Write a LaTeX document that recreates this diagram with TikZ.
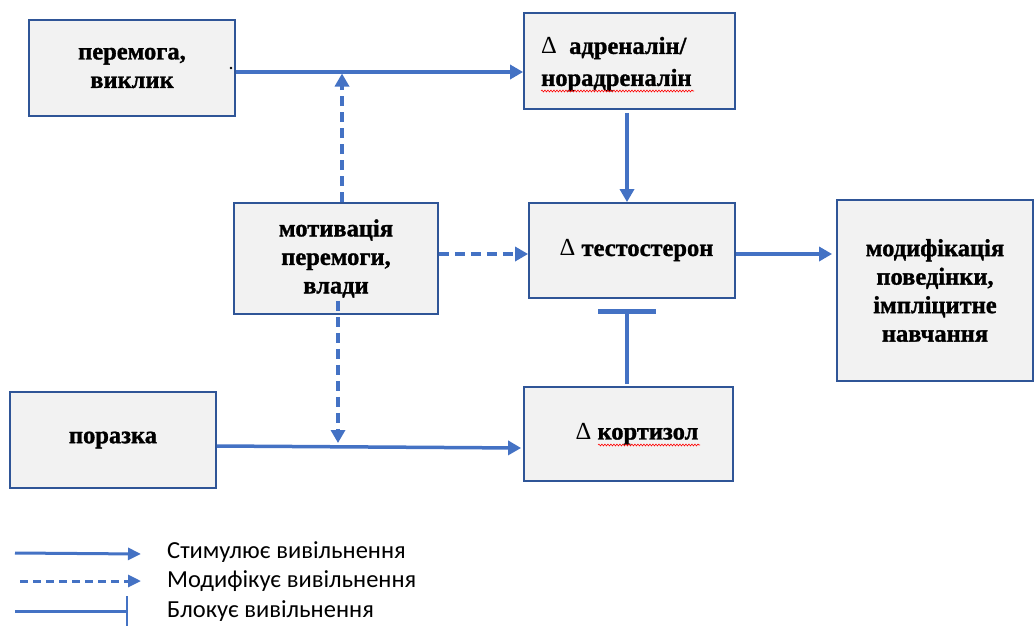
\documentclass[tikz,border=0pt]{standalone}
\usepackage{fontspec}
\setmainfont{Liberation Serif}[BoldFeatures={FakeBold=1.2}]
\newfontfamily\legendfont{Carlito}
\usetikzlibrary{arrows.meta,decorations.pathmorphing}
\definecolor{conn}{HTML}{4472C4}
\definecolor{edge}{HTML}{2F5597}
\definecolor{boxfill}{HTML}{F2F2F2}
\begin{document}
\begin{tikzpicture}[x=1pt,y=-1pt,
  box/.style={draw=edge, line width=1.8pt, fill=boxfill, inner sep=0pt,
    font=\fontsize{24.5}{28.5}\selectfont\bfseries, align=center},
  lbl/.style={inner sep=0pt, font=\fontsize{24.5}{32}\selectfont\bfseries, align=left},
  stim/.style={draw=conn, line width=3.5pt, -{Triangle[length=13pt,width=14pt]}},
  modif/.style={stim, dash pattern=on 10pt off 6pt},
  blockc/.style={draw=conn, line width=3.5pt, -{Bar[width=58pt,line width=4.5pt]}},
  lstim/.style={draw=conn, line width=3pt, -{Triangle[length=13pt,width=12pt]}},
  lmodif/.style={lstim, dash pattern=on 8pt off 5pt},
  lblock/.style={draw=conn, line width=3pt, -{Bar[width=30pt,line width=2.5pt]}},
  legtxt/.style={inner sep=0pt, anchor=west, font=\legendfont\fontsize{24.5}{28}\selectfont},
  squig/.style={draw=red, line width=0.6pt, decorate, decoration={snake, amplitude=0.9pt, segment length=3pt}}
]
\useasboundingbox (0,0) rectangle (1035,626);

% boxes
\node[box, minimum width=206pt, minimum height=96pt] (b1) at (132,68) {перемога,\\виклик};
\node[box, minimum width=211pt, minimum height=96pt] (b2) at (629.5,61) {};
\node[lbl, anchor=west] (t2) at (541,64) {{\mdseries Δ}\ \ адреналін/\\норадреналін};
\node[box, minimum width=204pt, minimum height=111pt] (b3) at (336,258.5) {мотивація\\перемоги,\\влади};
\node[box, minimum width=206pt, minimum height=95pt] (b4) at (632,250.5) {\hspace*{9pt}{\mdseries Δ} тестостерон};
\node[box, minimum width=196pt, minimum height=181pt] (b5) at (935,290.5) {модифікація\\поведінки,\\імпліцитне\\навчання};
\node[box, minimum width=206pt, minimum height=96pt] (b6) at (113,440) {поразка};
\node[box, minimum width=209pt, minimum height=94pt] (b7) at (628.5,434) {\hspace*{17pt}{\mdseries Δ} кортизол};

% small dot
\fill (231,68) circle (1.4);

% spelling squiggles
\draw[squig] (541,91) -- (694,91);
\draw[squig] (598,445) -- (700,445);

% connectors
\path (b1.east) ++(0,4) coordinate (c1s);
\draw[stim] (c1s) -- (c1s -| b2.west);

\path (b3.north) ++(6,0) coordinate (m1s);
\coordinate (m1e) at (342,73.5);
\draw[modif] (m1s) -- (m1e);

\path (b3.east) ++(0,-4.5) coordinate (m2s);
\draw[modif] (m2s) -- (m2s -| b4.west);

\path (b3.south) ++(2,-14) coordinate (m3s);
\coordinate (m3e) at (338,443);
\draw[modif] (m3s) -- (m3e);

\path (b6.east) ++(0,6) coordinate (c6s);
\path (b7.west) ++(-2,14) coordinate (c6e);
\draw[stim] (c6s) -- (c6e);

\path (b2.south) ++(-2.5,3) coordinate (a1);
\draw[stim] (a1) -- (a1 |- b4.north);

\path (b4.east) ++(0,3.5) coordinate (a2);
\draw[stim] (a2) -- ([xshift=-4pt]a2 -| b5.west);

\path (b7.north) ++(-1.5,-2) coordinate (k1);
\coordinate (k2) at (627,309);
\draw[blockc] (k1) -- (k2);

% legend
\coordinate (l1s) at (15,553); \coordinate (l1e) at (141,554);
\draw[lstim] (l1s) -- (l1e);
\coordinate (l2s) at (20,581); \coordinate (l2e) at (141,581);
\draw[lmodif] (l2s) -- (l2e);
\coordinate (l3s) at (15,611); \coordinate (l3e) at (128,611);
\draw[lblock] (l3s) -- (l3e);
\node[legtxt] (g1) at (167,552) {Стимулює вивільнення};
\node[legtxt] (g2) at (167,581) {Модифікує вивільнення};
\node[legtxt] (g3) at (167,611) {Блокує вивільнення};
\end{tikzpicture}
\end{document}
